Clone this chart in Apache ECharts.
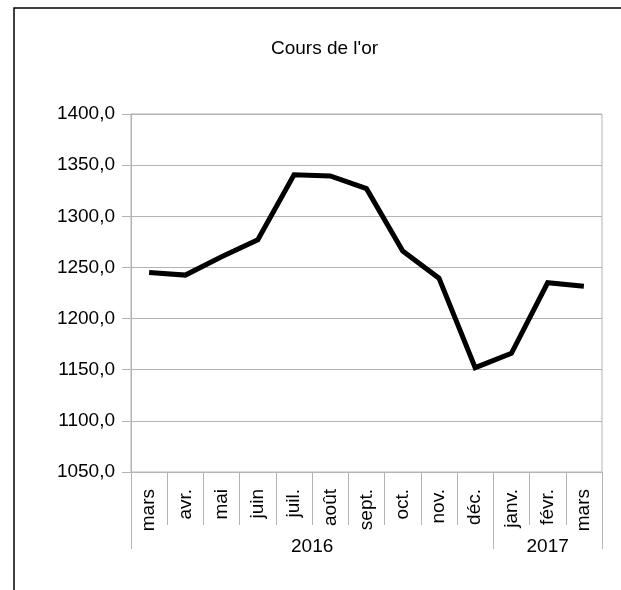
<!DOCTYPE html>
<html>
<head>
<meta charset="utf-8">
<title>Cours de l'or</title>
<script src="https://cdn.jsdelivr.net/npm/echarts@6/dist/echarts.min.js"></script>
<style>
  html, body { margin: 0; padding: 0; background: #fff; }
  #main { width: 621px; height: 590px; }
</style>
</head>
<body>
<div id="main"></div>
<script>
// mois (mars 2016 -> mars 2017)
const months = ["mars", "avr.", "mai", "juin", "juil.", "août", "sept.", "oct.", "nov.", "déc.", "janv.", "févr.", "mars"];
// cours moyen de l'or
const goldPrice = [1245, 1242.5, 1260.5, 1277, 1340.5, 1339.5, 1327, 1266, 1239.5, 1152, 1166, 1235, 1231.5];
// années et nombre de mois dans chacune
const years = ["2016", "2017"];
const yearSpans = [10, 3];
// axe Y
const yMin = 1050;
const yMax = 1400;
const yStep = 50;

// bornes et milieux des groupes d'années
const yearBounds = [0];
const yearCenters = [];
yearSpans.forEach(function (n) {
  const start = yearBounds[yearBounds.length - 1];
  yearCenters.push(start + n / 2);
  yearBounds.push(start + n);
});

const gridColor = "#b3b3b3";
const font = "Liberation Sans, Arial, sans-serif";

var chart = echarts.init(document.getElementById("main"));
var option = {
  animation: false,
  backgroundColor: "#fff",
  title: {
    text: "Cours de l'or",
    left: 266,
    top: 34,
    textStyle: { fontFamily: font, fontSize: 19, fontWeight: "normal", color: "#000" }
  },
  graphic: [
    {
      type: "rect",
      shape: { x: 14, y: 8, width: 700, height: 700 },
      style: { fill: null, stroke: "#000", lineWidth: 1.5 },
      silent: true
    }
  ],
  grid: {
    left: 131,
    right: 19,
    top: 114,
    bottom: 118,
    show: true,
    borderColor: gridColor,
    borderWidth: 1
  },
  xAxis: [
    {
      type: "category",
      data: months,
      position: "bottom",
      boundaryGap: true,
      axisLine: { lineStyle: { color: gridColor, width: 1 } },
      axisTick: { show: true, interval: 0, length: 53, lineStyle: { color: gridColor } },
      axisLabel: {
        interval: 0,
        rotate: 90,
        margin: 17,
        fontFamily: font,
        fontSize: 19,
        color: "#000"
      }
    },
    {
      type: "value",
      min: 0,
      max: months.length,
      position: "bottom",
      axisLine: { show: false },
      splitLine: { show: false },
      axisTick: {
        show: true,
        customValues: yearBounds,
        length: 77,
        lineStyle: { color: gridColor }
      },
      axisLabel: {
        customValues: yearCenters,
        margin: 65,
        fontFamily: font,
        fontSize: 19,
        color: "#000",
        formatter: function (v) {
          const i = yearCenters.indexOf(v);
          return i >= 0 ? years[i] : "";
        }
      }
    }
  ],
  yAxis: {
    type: "value",
    min: yMin,
    max: yMax,
    interval: yStep,
    axisLine: { show: true, lineStyle: { color: gridColor } },
    axisTick: { show: true, length: 9, lineStyle: { color: gridColor } },
    splitLine: { lineStyle: { color: gridColor, width: 1 } },
    axisLabel: {
      margin: 16,
      fontFamily: font,
      fontSize: 19,
      color: "#000",
      formatter: function (v) {
        return v.toFixed(1).replace(".", ",");
      }
    }
  },
  series: [
    {
      name: "Cours de l'or",
      type: "line",
      xAxisIndex: 0,
      data: goldPrice,
      symbol: "none",
      lineStyle: { color: "#000", width: 5, join: "miter" }
    }
  ]
};
chart.setOption(option);
</script>
</body>
</html>
